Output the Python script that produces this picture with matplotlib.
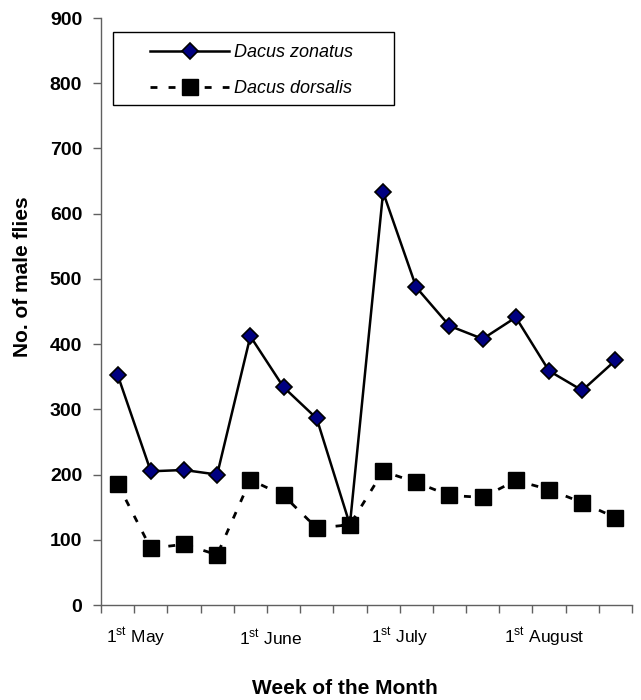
import matplotlib
matplotlib.use("Agg")
import matplotlib.pyplot as plt
from matplotlib.patches import Rectangle
import numpy as np

plt.rcParams['font.family'] = ['Liberation Sans', 'DejaVu Sans']
plt.rcParams['mathtext.fontset'] = 'custom'
plt.rcParams['mathtext.rm'] = 'Liberation Sans'

weeks = list(range(1, 17))
zonatus = [353, 205, 207, 200, 412, 334, 286, 123, 633, 487, 428, 408, 441, 359, 329, 375]
dorsalis = [186, 87, 93, 77, 192, 168, 118, 123, 205, 188, 168, 165, 191, 177, 157, 134]
month_labels = [r'1$^{\rm st}$ May', r'1$^{\rm st}$ June', r'1$^{\rm st}$ July', r'1$^{\rm st}$ August']
month_pos = [0.65, 4.65, 8.65, 12.65]

fig = plt.figure(figsize=(6.41, 7.0), dpi=100)
ax = fig.add_axes([101/641, 95/700, 531/641, 587/700])

ax.plot(weeks, zonatus, color='black', lw=1.8, marker='D', markersize=8.5,
        markerfacecolor='#000080', markeredgecolor='black', markeredgewidth=1.2,
        label='Dacus zonatus', zorder=3)
ax.plot(weeks, dorsalis, color='black', lw=2.0, linestyle=(0, (2.5, 4)), marker='s', markersize=11,
        markerfacecolor='black', markeredgecolor='black',
        label='Dacus dorsalis', zorder=3)

ax.set_xlim(0.5, 16.5)
ax.set_ylim(0, 900)
ax.set_yticks(np.arange(0, 901, 100))
ax.set_xticks(np.arange(0.5, 16.6, 1))
ax.set_xticklabels([])
for lab, p in zip(month_labels, month_pos):
    ax.text(p, -50, lab, ha='left', va='center', fontsize=12.5)

for s in ['top', 'right']:
    ax.spines[s].set_visible(False)
for s in ['left', 'bottom']:
    ax.spines[s].set_color('#606060')
    ax.spines[s].set_linewidth(1.0)
ax.tick_params(axis='both', direction='out', color='#606060', length=5.5, width=1.0)
ax.tick_params(axis='y', labelsize=14, pad=8)
for t in ax.get_yticklabels():
    t.set_fontweight('bold')

fig.text(23/641, 1 - 277/700, 'No. of male flies', rotation=90, ha='center', va='center',
         fontsize=15, fontweight='bold')
fig.text(345/641, 1 - 688/700, 'Week of the Month', ha='center', va='center',
         fontsize=15, fontweight='bold')

ax.add_patch(Rectangle((12/531, (605-105)/587), 281/531, 73/587, transform=ax.transAxes,
                       fill=True, facecolor='white', edgecolor='black', lw=1.0, zorder=4,
                       clip_on=False))
leg = ax.legend(loc='upper left', bbox_to_anchor=(49/531, (605-44)/587), frameon=False,
                borderpad=0, borderaxespad=0, handlelength=4.4, handletextpad=0.25,
                labelspacing=1.05, prop={'style': 'italic', 'size': 13})
leg.set_zorder(5)

fig.savefig('out.png', dpi=100)
